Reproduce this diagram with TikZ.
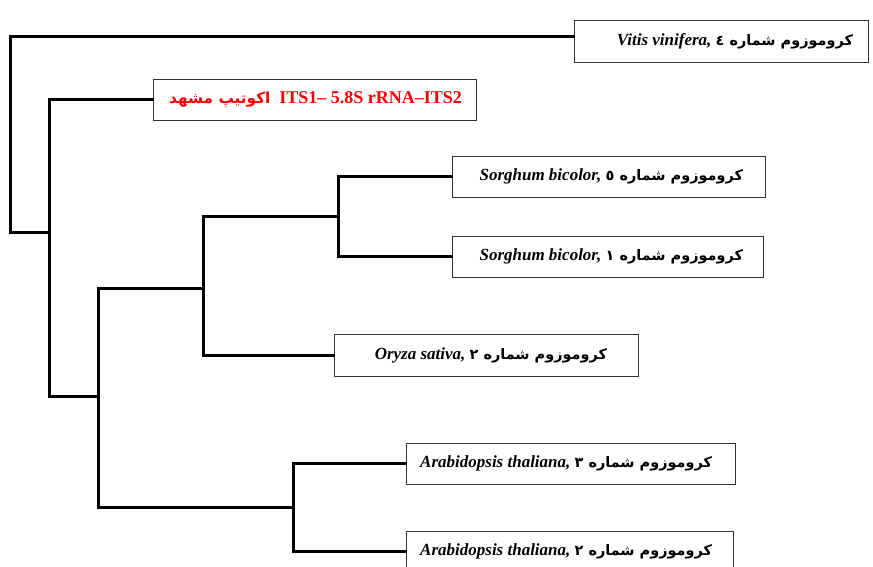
\documentclass[tikz,border=0pt]{standalone}
\usepackage{fontspec}
\setmainfont{Liberation Serif}[
  BoldFont={Liberation Serif Bold},
  ItalicFont={Liberation Serif Italic},
  BoldItalicFont={Liberation Serif Bold Italic}]
\newfontfamily\arabicfont[Script=Arabic,Scale=0.85]{DejaVu Sans}
\newfontfamily\latinbi{Liberation Serif Bold Italic}
\TeXXeTstate=1
\newcommand\leaflabel[3]{\makebox[#1][r]{#2\hspace{#3}}}
\tikzset{
  branch/.style={line width=3pt, line join=miter, line cap=rect},
  leaf/.style={draw=black!80, line width=1pt, inner sep=0pt, minimum height=41pt,
    font=\fontsize{17}{20}\selectfont\bfseries},
}
\begin{document}
\begin{tikzpicture}[x=1pt, y=-1pt]
\clip (0,0) rectangle (873,566);
\fill[white] (0,0) rectangle (873,566);
% leaves
\node[leaf, minimum height=42pt] (v) at (721,41)
  {\leaflabel{294pt}{{\latinbi Vitis vinifera,} {\arabicfont\beginR کروموزوم شماره ٤\endR}}{15pt}};
\node[leaf, text=red, font=\fontsize{18}{21}\selectfont\bfseries] (its) at (314.5,99.5)
  {\leaflabel{323pt}{{\arabicfont\beginR اکوتیپ مشهد\endR}\ \ ITS1– 5.8S rRNA–ITS2}{14pt}};
\node[leaf] (s5) at (608.5,176.5)
  {\leaflabel{313pt}{{\latinbi Sorghum bicolor,} {\arabicfont\beginR کروموزوم شماره ٥\endR}}{22pt}};
\node[leaf] (s1) at (607.5,256.5)
  {\leaflabel{311pt}{{\latinbi Sorghum bicolor,} {\arabicfont\beginR کروموزوم شماره ١\endR}}{20pt}};
\node[leaf, minimum height=42pt] (os) at (486,355)
  {\leaflabel{304pt}{{\latinbi Oryza sativa,} {\arabicfont\beginR کروموزوم شماره ٢\endR}}{31pt}};
\node[leaf] (a3) at (570.5,463.5)
  {\leaflabel{329pt}{{\latinbi Arabidopsis thaliana,} {\arabicfont\beginR کروموزوم شماره ٣\endR}}{23pt}};
\node[leaf] (a2) at (569.5,551.5)
  {\leaflabel{327pt}{{\latinbi Arabidopsis thaliana,} {\arabicfont\beginR کروموزوم شماره ٢\endR}}{21pt}};
% internal points
\coordinate (r) at (10,232);
\coordinate (a) at (49,232);
\coordinate (b) at (49,396);
\coordinate (c) at (98,396);
\coordinate (d) at (203,288);
\coordinate (g) at (293,507);
\coordinate (h) at (338,216);
% branches
\draw[branch] ([yshift=5pt]v.west) -| (r) -- (a);
\draw[branch] (its.west) -| (b) -- (c);
\draw[branch] (d) -| (c) |- (g);
\draw[branch] (h) -| (d) |- (os.west);
\draw[branch] (s5.west) -| (h) |- (s1.west);
\draw[branch] (a3.west) -| (g) |- (a2.west);
\end{tikzpicture}
\end{document}
